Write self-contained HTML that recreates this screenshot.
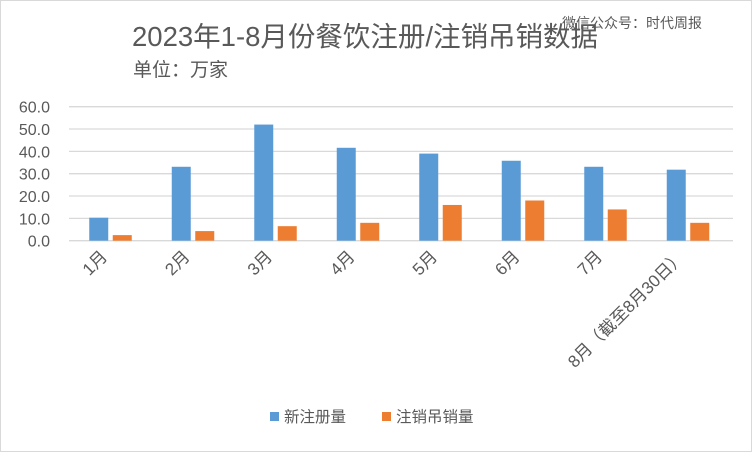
<!DOCTYPE html>
<html><head><meta charset="utf-8"><style>
body{margin:0;background:#fff}
svg text{font-family:"Liberation Sans","Noto Sans CJK SC",sans-serif}
</style></head><body>
<svg width="752" height="452">
<rect x="0.5" y="0.5" width="751" height="451" fill="#fff" stroke="#d9d9d9"/>
<text x="132" y="46" font-size="27.5" fill="#595959">2023年1-8月份餐饮注册/注销吊销数据</text>
<text x="133" y="76" font-size="19" fill="#595959">单位：万家</text>
<text x="562" y="28" font-size="14" fill="#595959">微信公众号：时代周报</text>
<g id="grid"></g><g id="bars"></g><g id="labels"></g>
<rect x="270" y="412" width="9" height="9" fill="#5b9bd5"/>
<text x="284" y="422" font-size="15.5" fill="#595959">新注册量</text>
<rect x="382" y="412" width="9" height="9" fill="#ed7d31"/>
<text x="396" y="422" font-size="15.5" fill="#595959">注销吊销量</text>
</svg>
<script>
const categories=["1月","2月","3月","4月","5月","6月","7月","8月（截至8月30日）"];
const newReg=[10.3,33.1,52.0,41.6,39.0,35.8,33.1,31.8];
const cancelled=[2.5,4.3,6.5,8.0,16.0,18.0,14.0,8.0];
const ticks=[0,10,20,30,40,50,60];
const ns="http://www.w3.org/2000/svg";
const x0=69,x1=729,yb=240.7,yt=106.7,ymax=60;
const y=v=>yb-(yb-yt)*v/ymax;
const step=(x1-x0)/categories.length;
function mk(t,a,p){const e=document.createElementNS(ns,t);for(const k in a)e.setAttribute(k,a[k]);p.appendChild(e);return e;}
const g=document.getElementById('grid'),b=document.getElementById('bars'),l=document.getElementById('labels');
ticks.forEach(t=>{
 const ln=mk('line',{x1:x0,x2:x1+4,y1:y(t),y2:y(t),stroke:'#d9d9d9','stroke-width':1.3},g);
 
 
 const tx=mk('text',{x:50,y:y(t)+6,'font-size':16,fill:'#595959','text-anchor':'end'},g);
 tx.textContent=t.toFixed(1);
 
 
});
categories.forEach((c,i)=>{
 const cx=x0+step*(i+0.5);
 const r1=mk('rect',{x:cx-21,y:y(newReg[i]),width:19,height:yb-y(newReg[i]),fill:'#5b9bd5'},b);
 
 
 const r2=mk('rect',{x:cx+2.5,y:y(cancelled[i]),width:19,height:yb-y(cancelled[i]),fill:'#ed7d31'},b);
 
 
 const tx=mk('text',{x:0,y:0,'font-size':17,fill:'#595959','text-anchor':'end',transform:`translate(${cx-2},${yb+17}) rotate(-45)`},l);
 tx.textContent=c;
 
 
});
</script>
</body></html>
